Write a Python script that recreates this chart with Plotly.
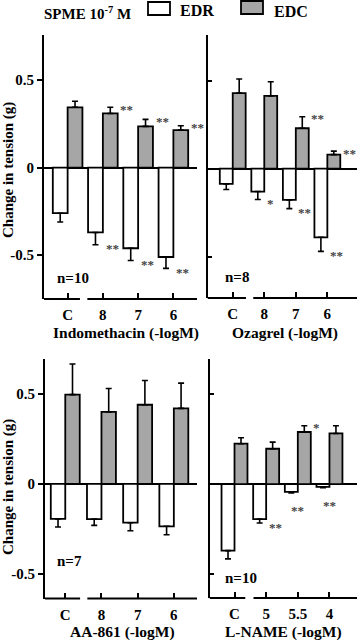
import plotly.graph_objects as go

W, H = 363, 640

# ---------------- data ----------------
ind_cats = ["C", "8", "7", "6"]
ind_edr = [-0.26, -0.37, -0.46, -0.51]
ind_edr_err = [0.05, 0.07, 0.07, 0.065]
ind_edc = [0.345, 0.31, 0.236, 0.215]
ind_edc_err = [0.035, 0.035, 0.04, 0.025]
ind_edr_sig = ["", "**", "**", "**"]
ind_edc_sig = ["", "**", "**", "**"]

oza_cats = ["C", "8", "7", "6"]
oza_edr = [-0.086, -0.13, -0.177, -0.39]
oza_edr_err = [0.032, 0.045, 0.05, 0.08]
oza_edc = [0.43, 0.414, 0.23, 0.08]
oza_edc_err = [0.08, 0.08, 0.065, 0.02]
oza_edr_sig = ["", "*", "**", "**"]
oza_edc_sig = ["", "", "**", "**"]

aa_cats = ["C", "8", "7", "6"]
aa_edr = [-0.194, -0.195, -0.215, -0.235]
aa_edr_err = [0.045, 0.035, 0.045, 0.047]
aa_edc = [0.496, 0.40, 0.44, 0.42]
aa_edc_err = [0.17, 0.13, 0.135, 0.14]
aa_edr_sig = ["", "", "", ""]
aa_edc_sig = ["", "", "", ""]

ln_cats = ["C", "5", "5.5", "4"]
ln_edr = [-0.369, -0.194, -0.043, -0.015]
ln_edr_err = [0.046, 0.022, 0.006, 0.005]
ln_edc = [0.224, 0.196, 0.289, 0.281]
ln_edc_err = [0.033, 0.037, 0.035, 0.043]
ln_edr_sig = ["", "**", "**", "**"]
ln_edc_sig = ["", "", "*", ""]

panels = [
    dict(cats=ind_cats, edr=ind_edr, edre=ind_edr_err, edc=ind_edc, edce=ind_edc_err,
         rs=ind_edr_sig, cs=ind_edc_sig, title="Indomethacin (-logM)", n="n=10"),
    dict(cats=oza_cats, edr=oza_edr, edre=oza_edr_err, edc=oza_edc, edce=oza_edc_err,
         rs=oza_edr_sig, cs=oza_edc_sig, title="Ozagrel (-logM)", n="n=8"),
    dict(cats=aa_cats, edr=aa_edr, edre=aa_edr_err, edc=aa_edc, edce=aa_edc_err,
         rs=aa_edr_sig, cs=aa_edc_sig, title="AA-861 (-logM)", n="n=7"),
    dict(cats=ln_cats, edr=ln_edr, edre=ln_edr_err, edc=ln_edc, edce=ln_edc_err,
         rs=ln_edr_sig, cs=ln_edc_sig, title="L-NAME (-logM)", n="n=10"),
]

# ---------------- layout geometry (pixels) ----------------
geo = [
    dict(x0=44, x1=197, y0=35, y1=299, xr=[-0.67, 3.67], yr=[-0.75, 0.758], w=0.42,
         brk=(0.35, 0.56), labels=True, tx=126, ty=333, nx=55, ny=278, so=5),
    dict(x0=207.5, x1=357, y0=35, y1=298, xr=[-0.8, 3.94], yr=[-0.735, 0.76], w=0.41,
         brk=(0.42, 0.65), labels=False, tx=285, ty=333, nx=223, ny=277, so=5),
    dict(x0=45, x1=197, y0=359, y1=598.5, xr=[-0.56, 3.64], yr=[-0.636, 0.694], w=0.40,
         brk=(0.41, 0.61), labels=True, tx=122, ty=632, nx=55, ny=561, so=5),
    dict(x0=209.5, x1=357, y0=359, y1=598, xr=[-0.79, 3.87], yr=[-0.632, 0.694], w=0.41,
         brk=(0.34, 0.60), labels=False, tx=283, ty=632, nx=223, ny=578, so=5),
]

FONT = "Liberation Serif"
GRAY = "#a6a6a6"
STAR = "#444444"

def px(x):
    return x / W

def py(y):
    return 1 - y / H

fig = go.Figure()
shapes = []
annotations = []
layout_axes = {}

for i, (p, g) in enumerate(zip(panels, geo), start=1):
    xa = "x" if i == 1 else f"x{i}"
    ya = "y" if i == 1 else f"y{i}"
    w = g["w"]
    fig.add_trace(go.Bar(
        x=p["cats"], y=p["edr"], xaxis=xa, yaxis=ya, name="EDR",
        offset=-w, width=w, marker=dict(color="white", line=dict(color="black", width=1.8)),
        error_y=dict(type="data", symmetric=False, array=[0] * 4, arrayminus=p["edre"],
                     color="black", thickness=1.6, width=3),
        showlegend=False))
    fig.add_trace(go.Bar(
        x=p["cats"], y=p["edc"], xaxis=xa, yaxis=ya, name="EDC",
        offset=0, width=w, marker=dict(color=GRAY, line=dict(color="black", width=1.8)),
        error_y=dict(type="data", symmetric=False, array=p["edce"], arrayminus=[0] * 4,
                     color="black", thickness=1.6, width=3),
        showlegend=False))

    xkey = "xaxis" if i == 1 else f"xaxis{i}"
    ykey = "yaxis" if i == 1 else f"yaxis{i}"
    layout_axes[xkey] = dict(
        domain=[px(g["x0"]), px(g["x1"])], anchor=ya, type="category",
        range=g["xr"], showline=False, showgrid=False, zeroline=False,
        ticks="inside", ticklen=6, tickwidth=1.6, tickcolor="black",
        ticklabelstandoff=g["so"],
        tickfont=dict(family=FONT, size=15, color="black", weight="bold"),
        fixedrange=True)
    layout_axes[ykey] = dict(
        domain=[py(g["y1"]), py(g["y0"])], anchor=xa, range=g["yr"],
        showline=True, linecolor="black", linewidth=1.8, showgrid=False,
        zeroline=True, zerolinecolor="black", zerolinewidth=1.6,
        tickvals=[-0.5, 0, 0.5], ticktext=["-0.5", "0", "0.5"],
        showticklabels=g["labels"],
        ticks="outside" if g["labels"] else "inside", ticklen=5, tickwidth=1.6,
        tickcolor="black",
        tickfont=dict(family=FONT, size=15, color="black", weight="bold"),
        fixedrange=True)

    # broken x axis line
    for a, b in [(g["xr"][0], g["brk"][0]), (g["brk"][1], g["xr"][1])]:
        shapes.append(dict(type="line", xref=xa, yref=f"{ya} domain", x0=a, x1=b, y0=0, y1=0,
                           line=dict(color="black", width=1.8)))

    # significance stars
    for j in range(len(p["cats"])):
        if p["rs"][j]:
            low = p["edr"][j] - p["edre"][j]
            if abs(p["edr"][j]) < 0.1:
                annotations.append(dict(x=j, y=low, xref=xa, yref=ya,
                                        text=p["rs"][j], showarrow=False, xanchor="center",
                                        yanchor="top", yshift=-8,
                                        font=dict(family=FONT, size=13, color=STAR)))
            else:
                annotations.append(dict(x=j + 0.02, y=low, xref=xa, yref=ya,
                                        text=p["rs"][j], showarrow=False, xanchor="left",
                                        yanchor="middle", yshift=-4,
                                        font=dict(family=FONT, size=13, color=STAR)))
        if p["cs"][j]:
            annotations.append(dict(x=j + w + 0.02, y=p["edc"][j] + p["edce"][j], xref=xa, yref=ya,
                                    text=p["cs"][j], showarrow=False, xanchor="left",
                                    yanchor="middle", yshift=-2,
                                    font=dict(family=FONT, size=13, color=STAR)))

    # x title
    annotations.append(dict(x=px(g["tx"]), y=py(g["ty"]), xref="paper", yref="paper",
                            text=p["title"], showarrow=False, xanchor="center", yanchor="middle",
                            font=dict(family=FONT, size=15.5, color="black", weight="bold")))
    # n label
    annotations.append(dict(x=px(g["nx"]), y=py(g["ny"]), xref="paper", yref="paper",
                            text=p["n"], showarrow=False, xanchor="left", yanchor="middle",
                            font=dict(family=FONT, size=15, color="black", weight="bold")))

# y titles
for yc in (170, 487):
    annotations.append(dict(x=px(8), y=py(yc), xref="paper", yref="paper",
                            text="Change in tension (g)", textangle=-90, showarrow=False,
                            xanchor="center", yanchor="middle",
                            font=dict(family=FONT, size=15, color="black", weight="bold")))

# legend
annotations.append(dict(x=px(42), y=py(13), xref="paper", yref="paper",
                        text="SPME 10<sup>-7</sup> M", showarrow=False, xanchor="left",
                        yanchor="middle",
                        font=dict(family=FONT, size=15, color="black", weight="bold")))
shapes.append(dict(type="rect", xref="paper", yref="paper", x0=px(148), x1=px(170),
                   y0=py(15), y1=py(2), fillcolor="white", line=dict(color="black", width=1.8)))
annotations.append(dict(x=px(178), y=py(10), xref="paper", yref="paper", text="EDR",
                        showarrow=False, xanchor="left", yanchor="middle",
                        font=dict(family=FONT, size=16, color="black", weight="bold")))
shapes.append(dict(type="rect", xref="paper", yref="paper", x0=px(241), x1=px(263),
                   y0=py(14), y1=py(1), fillcolor=GRAY, line=dict(color="black", width=1.8)))
annotations.append(dict(x=px(272), y=py(11), xref="paper", yref="paper", text="EDC",
                        showarrow=False, xanchor="left", yanchor="middle",
                        font=dict(family=FONT, size=16, color="black", weight="bold")))

fig.update_layout(
    width=W, height=H, margin=dict(l=0, r=0, t=0, b=0),
    paper_bgcolor="white", plot_bgcolor="white",
    font=dict(family=FONT, size=15, color="black", weight="bold"),
    barmode="overlay", showlegend=False,
    shapes=shapes, annotations=annotations, **layout_axes)

fig.write_html("out.html", config=dict(displayModeBar=False),
               post_script="document.body.style.margin='0px';document.body.style.overflow='hidden';")
